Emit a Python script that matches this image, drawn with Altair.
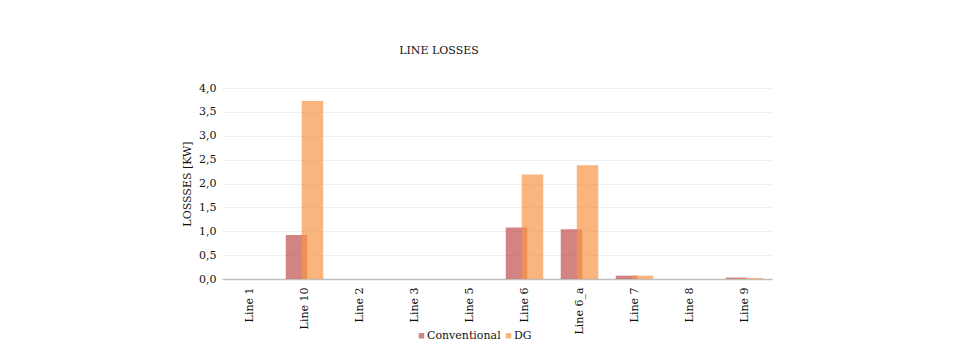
import altair as alt
import pandas as pd

lines = ["Line 1", "Line 10", "Line 2", "Line 3", "Line 5", "Line 6", "Line 6_a", "Line 7", "Line 8", "Line 9"]
conventional = [0.0, 0.92, 0.0, 0.0, 0.0, 1.08, 1.04, 0.07, 0.0, 0.03]
dg = [0.0, 3.73, 0.0, 0.0, 0.0, 2.19, 2.38, 0.07, 0.0, 0.02]
series = ["Conventional", "DG"]
colors = ["#c0504d", "#f79646"]
y_ticks = [0, 0.5, 1, 1.5, 2, 2.5, 3, 3.5, 4]

rows = []
for i, ln in enumerate(lines):
    rows.append({"line": ln, "series": "Conventional", "value": conventional[i]})
    rows.append({"line": ln, "series": "DG", "value": dg[i]})
df = pd.DataFrame(rows)

FONT = "DejaVu Serif"

x = alt.X("line:N", sort=lines, title=None,
          scale=alt.Scale(paddingInner=0, paddingOuter=0),
          axis=alt.Axis(labelAngle=-90, labelFont=FONT, labelFontSize=11, labelColor="#111",
                        labelPadding=8, ticks=False, grid=False, domainColor="#bfbfbf", domainWidth=1.5,
                        labelAlign="right", labelBaseline="middle"))
y = alt.Y("value:Q", title="LOSSSES [KW]",
          scale=alt.Scale(domain=[0, 4], nice=False),
          axis=alt.Axis(values=y_ticks, labelExpr="replace(format(datum.value, '.1f'), '.', ',')",
                        labelFont=FONT, labelFontSize=11, labelColor="#111", labelPadding=6,
                        ticks=False, domain=False, grid=True, gridColor="#efefef",
                        titleFont=FONT, titleFontSize=11, titleFontWeight="normal",
                        titleColor="#111", titlePadding=6))
color = alt.Color("series:N", scale=alt.Scale(domain=series, range=colors),
                  legend=alt.Legend(title=None, orient="none", direction="horizontal",
                                    legendX=194, legendY=242, symbolType="square",
                                    symbolSize=30, symbolOpacity=0.7, symbolStrokeWidth=0,
                                    labelFont=FONT, labelFontSize=11, labelColor="#111",
                                    columnPadding=2, labelOffset=0))

base = alt.Chart(df).encode(x=x, y=y, color=color)
conv = base.transform_filter(alt.datum.series == "Conventional").mark_bar(size=21.5, xOffset=-8, opacity=0.7)
dgl = base.transform_filter(alt.datum.series == "DG").mark_bar(size=21.5, xOffset=8, opacity=0.7)

chart = alt.layer(conv, dgl).properties(
    width=550, height=191,
    autosize=alt.AutoSizeParams(type="none"),
    padding={"left": 214, "top": 80, "right": 180, "bottom": 70},
    title=alt.Title("LINE LOSSES", font=FONT, fontSize=11, fontWeight="normal",
                    color="#111", anchor="middle", dx=-58, offset=26),
).configure_view(stroke=None)

chart.save("out.html", embed_options={"renderer": "svg", "actions": False})
